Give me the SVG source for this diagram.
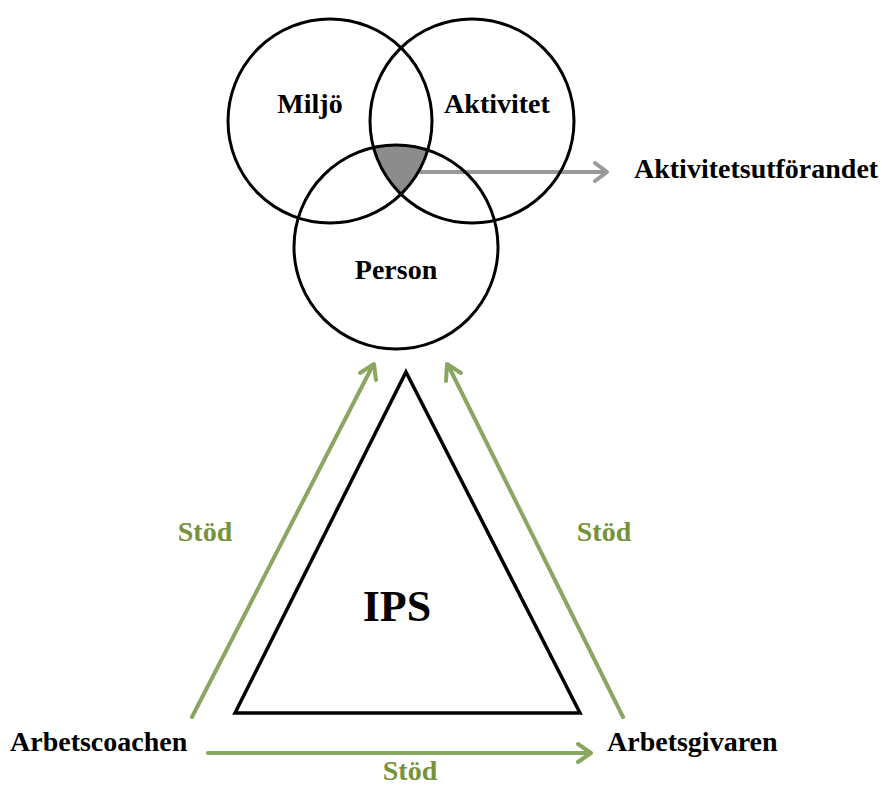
<svg xmlns="http://www.w3.org/2000/svg" width="882" height="787" viewBox="0 0 882 787">
<style>
.lbl{font-family:"Liberation Serif","Times New Roman",serif;font-weight:bold;font-size:28px;fill:#000}
.stod{font-family:"Liberation Serif","Times New Roman",serif;font-weight:bold;font-size:28px;fill:#76923C}
.ring{fill:none;stroke:#000;stroke-width:3}
.garrow{stroke:#8BA660;stroke-width:4;fill:none;stroke-linecap:round;stroke-linejoin:round}
.gyarrow{stroke:#999;stroke-width:4;fill:none;stroke-linecap:round;stroke-linejoin:round}
</style>
<defs>
<clipPath id="cA"><circle cx="472" cy="121" r="102"/></clipPath>
<clipPath id="cP"><circle cx="396" cy="247" r="102"/></clipPath>
</defs>
<rect width="882" height="787" fill="#fff"/>
<g id="overlap">
<g clip-path="url(#cA)"><circle cx="330" cy="121" r="102" fill="#8c8c8c" clip-path="url(#cP)"/></g>
</g>
<g id="connectors">
<g id="arrow-out">
<line class="gyarrow" x1="420" y1="172" x2="606" y2="172"/>
<polyline class="gyarrow" points="595,163 607,172 595,181"/>
</g>
<g id="arrow-left">
<line class="garrow" x1="192" y1="717" x2="373" y2="365"/>
<polyline class="garrow" points="360,373 374,364 376,380"/>
</g>
<g id="arrow-right">
<line class="garrow" x1="623" y1="717" x2="448" y2="365"/>
<polyline class="garrow" points="446,381 447,364 461,373"/>
</g>
<g id="arrow-bottom">
<line class="garrow" x1="208" y1="753" x2="590" y2="753"/>
<polyline class="garrow" points="578,744 591,753 578,762"/>
</g>
</g>
<g id="miljo">
<circle class="ring" cx="330" cy="121" r="102"/>
<text class="lbl" x="310" y="113" text-anchor="middle">Miljö</text>
</g>
<g id="aktivitet">
<circle class="ring" cx="472" cy="121" r="102"/>
<text class="lbl" x="497" y="113" text-anchor="middle">Aktivitet</text>
</g>
<g id="person">
<circle class="ring" cx="396" cy="247" r="102"/>
<text class="lbl" x="396" y="279" text-anchor="middle">Person</text>
</g>
<g id="aktivitetsutforandet">
<text class="lbl" x="634" y="178">Aktivitetsutförandet</text>
</g>
<g id="ips">
<polygon points="406,372 580,713 235,713" fill="none" stroke="#000" stroke-width="3.5" stroke-linejoin="miter"/>
<text class="lbl" x="397" y="621" text-anchor="middle" style="font-size:44px">IPS</text>
</g>
<g id="arbetscoachen">
<text class="lbl" x="10" y="751">Arbetscoachen</text>
</g>
<g id="arbetsgivaren">
<text class="lbl" x="607" y="751">Arbetsgivaren</text>
</g>
<text class="stod" x="205" y="541" text-anchor="middle">Stöd</text>
<text class="stod" x="604" y="541" text-anchor="middle">Stöd</text>
<text class="stod" x="410" y="780" text-anchor="middle">Stöd</text>
</svg>
